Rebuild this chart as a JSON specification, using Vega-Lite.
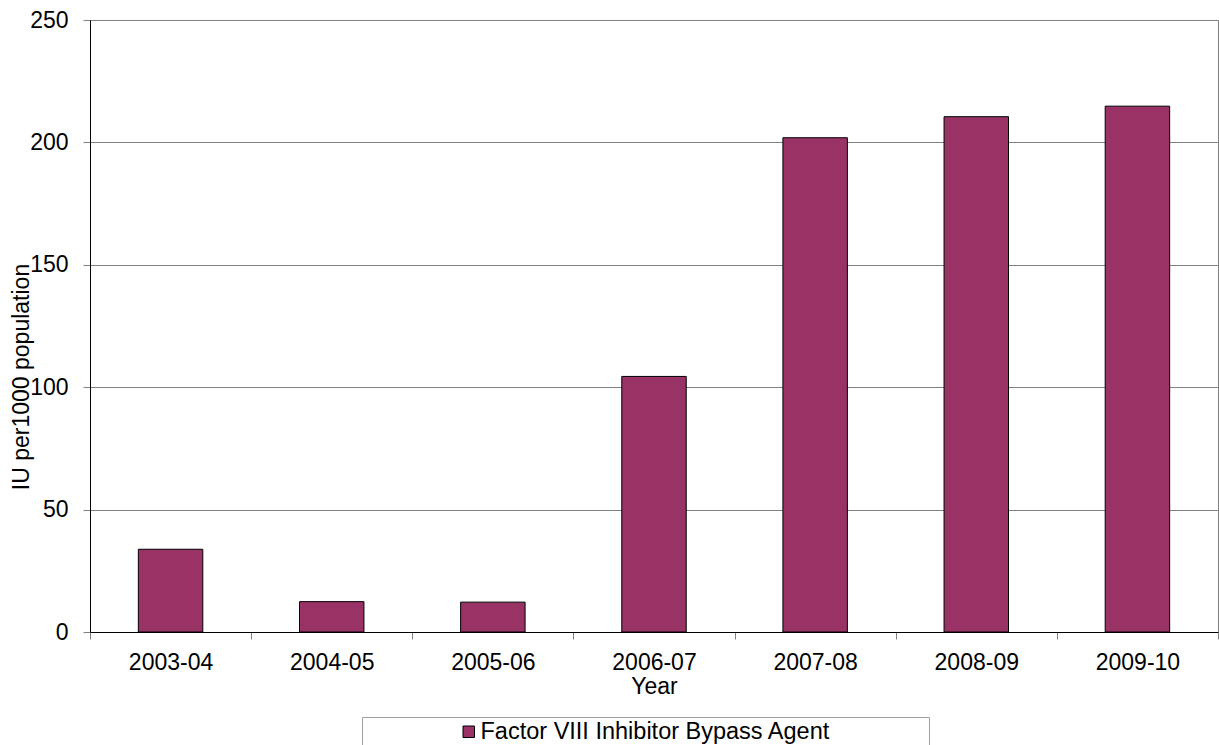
{
  "$schema": "https://vega.github.io/schema/vega-lite/v6.json",
  "width": 1128,
  "height": 612,
  "autosize": {"type": "none"},
  "padding": {"left": 90, "top": 20, "right": 1, "bottom": 113},
  "background": "white",
  "config": {
    "font": "Liberation Sans",
    "view": {"stroke": "#808080", "strokeWidth": 1},
    "axis": {
      "labelFont": "Liberation Sans",
      "titleFont": "Liberation Sans",
      "labelFontSize": 23,
      "titleFontSize": 23,
      "labelColor": "black",
      "titleColor": "black",
      "titleFontWeight": "normal",
      "domainColor": "black",
      "domainWidth": 1,
      "tickColor": "#808080",
      "tickSize": 7,
      "gridColor": "#808080",
      "gridWidth": 1
    },
    "legend": {
      "labelFont": "Liberation Sans",
      "titleFont": "Liberation Sans"
    }
  },
  "data": {
    "values": [
      {"Year": "2003-04", "value": 33.8, "series": "Factor VIII Inhibitor Bypass Agent"},
      {"Year": "2004-05", "value": 12.4, "series": "Factor VIII Inhibitor Bypass Agent"},
      {"Year": "2005-06", "value": 12.2, "series": "Factor VIII Inhibitor Bypass Agent"},
      {"Year": "2006-07", "value": 104.4, "series": "Factor VIII Inhibitor Bypass Agent"},
      {"Year": "2007-08", "value": 201.9, "series": "Factor VIII Inhibitor Bypass Agent"},
      {"Year": "2008-09", "value": 210.5, "series": "Factor VIII Inhibitor Bypass Agent"},
      {"Year": "2009-10", "value": 214.8, "series": "Factor VIII Inhibitor Bypass Agent"}
    ]
  },
  "mark": {"type": "bar", "stroke": "black", "strokeWidth": 1, "width": {"band": 0.4}},
  "encoding": {
    "x": {
      "field": "Year",
      "type": "nominal",
      "sort": null,
      "scale": {"paddingInner": 0, "paddingOuter": 0},
      "axis": {
        "title": "Year",
        "labelAngle": 0,
        "labelPadding": 12,
        "tickBand": "extent",
        "titlePadding": 1,
        "grid": false
      }
    },
    "y": {
      "field": "value",
      "type": "quantitative",
      "scale": {"domain": [0, 250], "nice": false},
      "axis": {
        "title": "IU per1000 population",
        "values": [0, 50, 100, 150, 200, 250],
        "grid": true,
        "labelPadding": 15,
        "titleX": -61.5,
        "titleY": 356.5,
        "titleAlign": "center",
        "titleBaseline": "alphabetic",
        "titleAngle": -90
      }
    },
    "color": {
      "field": "series",
      "type": "nominal",
      "scale": {"range": ["#993366"]},
      "legend": {
        "orient": "none",
        "legendX": 272,
        "legendY": 697,
        "direction": "horizontal",
        "title": "Bypass A",
        "titleOrient": "right",
        "titleFontSize": 20,
        "titleOpacity": 0,
        "titlePadding": 3,
        "labelFontSize": 23.5,
        "labelLimit": 1000,
        "labelColor": "black",
        "labelOffset": 0,
        "symbolType": "square",
        "symbolSize": 132,
        "symbolStrokeColor": "black",
        "symbolStrokeWidth": 1,
        "symbolOffset": 92,
        "padding": 3,
        "strokeColor": "#a0a0a0",
        "fillColor": "white"
      }
    }
  }
}
